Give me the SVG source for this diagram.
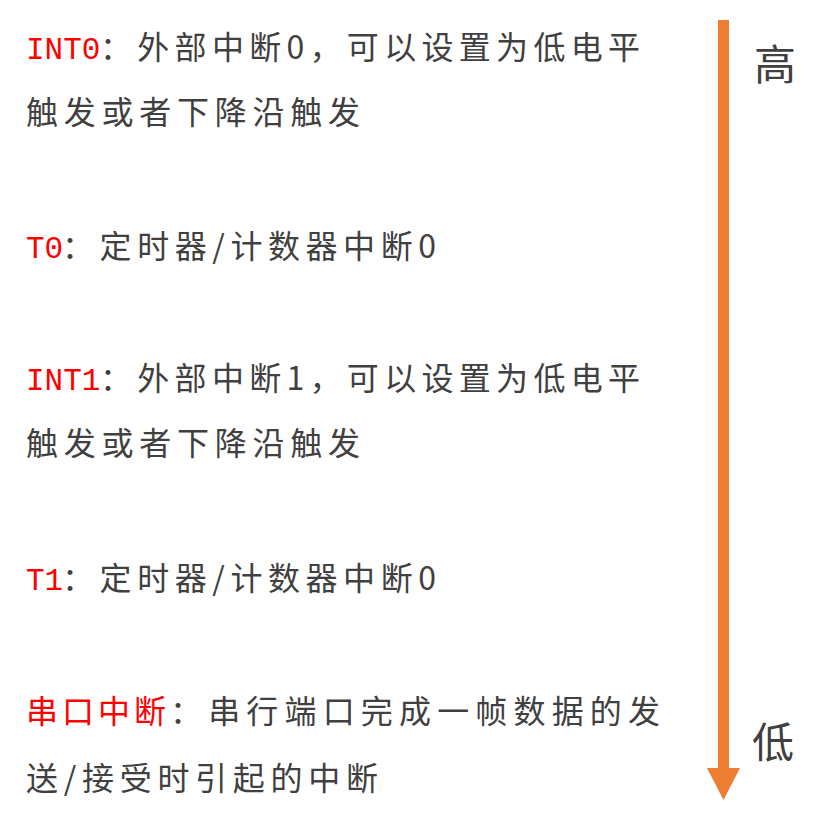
<svg xmlns="http://www.w3.org/2000/svg" width="832" height="835" viewBox="0 0 832 835">
<style>
text{font-family:"Noto Sans CJK SC","Noto Sans",sans-serif;font-size:32px;fill:#404040}
.r{fill:#ff0000}
.l{font-family:"Liberation Mono",monospace;font-size:31px}
.big{font-size:42px}
</style>
<rect width="832" height="835" fill="#fff"/>
<g id="n1"><text class="r l" x="26" y="59">INT0</text><text x="100" y="59" textLength="540" lengthAdjust="spacing">：外部中断0，可以设置为低电平</text><text x="26" y="124" textLength="334" lengthAdjust="spacing">触发或者下降沿触发</text></g>
<g id="n2"><text class="r l" x="26" y="258">T0</text><text x="62" y="258" textLength="374" lengthAdjust="spacing">：定时器/计数器中断0</text></g>
<g id="n3"><text class="r l" x="26" y="390">INT1</text><text x="100" y="390" textLength="540" lengthAdjust="spacing">：外部中断1，可以设置为低电平</text><text x="26" y="455" textLength="334" lengthAdjust="spacing">触发或者下降沿触发</text></g>
<g id="n4"><text class="r l" x="26" y="590">T1</text><text x="62" y="590" textLength="374" lengthAdjust="spacing">：定时器/计数器中断0</text></g>
<g id="n5"><text class="r" x="26" y="723" textLength="140" lengthAdjust="spacing">串口中断</text><text x="170" y="723" textLength="490" lengthAdjust="spacing">：串行端口完成一帧数据的发</text><text x="26" y="790" textLength="352" lengthAdjust="spacing">送/接受时引起的中断</text></g>
<g id="hi"><text class="big" x="754" y="80">高</text></g>
<g id="lo"><text class="big" x="752" y="758">低</text></g>
<g id="connectors"><rect x="718" y="20" width="11" height="750" fill="#ed7d31"/><polygon points="707,768 740,768 723.5,800" fill="#ed7d31"/></g>
</svg>
